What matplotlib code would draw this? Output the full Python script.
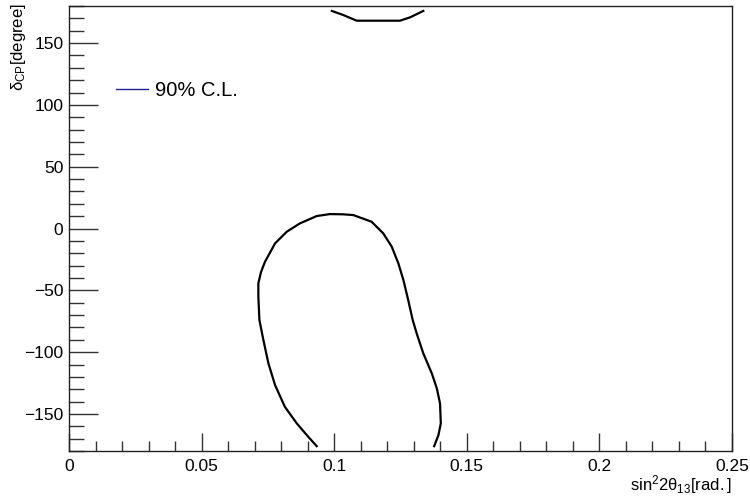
import matplotlib
matplotlib.use("Agg")
import matplotlib.pyplot as plt
from matplotlib.ticker import MultipleLocator, FuncFormatter
from matplotlib.lines import Line2D

plt.rcParams["font.family"] = ["Liberation Sans", "DejaVu Sans"]
plt.rcParams["mathtext.fontset"] = "custom"
plt.rcParams["mathtext.rm"] = "Liberation Sans"
plt.rcParams["mathtext.it"] = "Liberation Sans:italic"

# Contorno 90% C.L. (parte inferior, abierta en -180)
sin2_bajo = [0.0934, 0.0902, 0.0859, 0.0814, 0.0777, 0.0752, 0.0733, 0.0718, 0.0714,
             0.0714, 0.0724, 0.0739, 0.0777, 0.0821, 0.0871, 0.0934, 0.0984, 0.1034,
             0.1072, 0.1141, 0.1185, 0.1217, 0.1242, 0.1261, 0.1279, 0.1296, 0.1311,
             0.1336, 0.1368, 0.1387, 0.1399, 0.1402, 0.1393, 0.1377]
dcp_bajo = [-176.0, -168.4, -157.6, -144.2, -126.6, -109.1, -90.2, -74.0, -55.2,
            -44.3, -35.2, -26.9, -12.0, -2.6, 4.2, 10.1, 11.7, 11.5,
            10.9, 5.5, -3.9, -14.7, -28.2, -41.7, -57.8, -74.0, -84.8,
            -101.0, -117.1, -129.3, -141.4, -157.6, -167.1, -176.0]

# Contorno 90% C.L. (parte superior, cerca de +180)
sin2_alto = [0.0991, 0.1034, 0.1085, 0.1248, 0.1286, 0.1336]
dcp_alto = [176.0, 172.7, 168.1, 168.1, 170.8, 176.0]

fig = plt.figure(figsize=(7.5, 4.99), dpi=100)
ax = fig.add_axes([0.092, 0.096, 0.884, 0.892])

ax.plot(sin2_bajo, dcp_bajo, color="black", linewidth=1.6)
ax.plot(sin2_alto, dcp_alto, color="black", linewidth=1.6)

ax.set_xlim(0, 0.25)
ax.set_ylim(-180, 180)

ax.xaxis.set_major_locator(MultipleLocator(0.05))
ax.xaxis.set_minor_locator(MultipleLocator(0.01))
ax.yaxis.set_major_locator(MultipleLocator(50))
ax.yaxis.set_minor_locator(MultipleLocator(10))
ax.xaxis.set_major_formatter(FuncFormatter(lambda v, p: "0" if abs(v) < 1e-9 else f"{v:g}"))
ax.yaxis.set_major_formatter(FuncFormatter(lambda v, p: f"{v:.0f}".replace("-", "\u2212")))

ax.tick_params(axis="both", which="both", direction="in", top=False, right=False,
               labelsize=12.5, color="#333333", width=1.0)
ax.tick_params(axis="y", which="major", length=21, pad=4)
ax.tick_params(axis="y", which="minor", length=11)
ax.tick_params(axis="x", which="major", length=13, pad=6)
ax.tick_params(axis="x", which="minor", length=7)

for s in ax.spines.values():
    s.set_linewidth(1.0)
    s.set_color("#222222")

ax.set_xlabel(r"$\mathregular{sin^{2}2\theta_{13}[rad.]}$", fontsize=12)
ax.xaxis.set_label_coords(1.0, -0.05)
ax.xaxis.label.set_horizontalalignment("right")
ax.set_ylabel(r"$\mathregular{\delta_{CP}[degree]}$", fontsize=12)
ax.yaxis.set_label_coords(-0.062, 1.006)
ax.yaxis.label.set_verticalalignment("bottom")
ax.yaxis.label.set_horizontalalignment("right")

# Leyenda estilo ROOT: línea azul oscuro
h = Line2D([], [], color="#202090", linewidth=1.0)
ax.legend([h], ["90% C.L."], loc="upper left", bbox_to_anchor=(0.059, 0.85),
          frameon=False, fontsize=14.5, handlelength=1.6, handletextpad=0.35,
          borderaxespad=0)

fig.savefig("out.png", dpi=100)
